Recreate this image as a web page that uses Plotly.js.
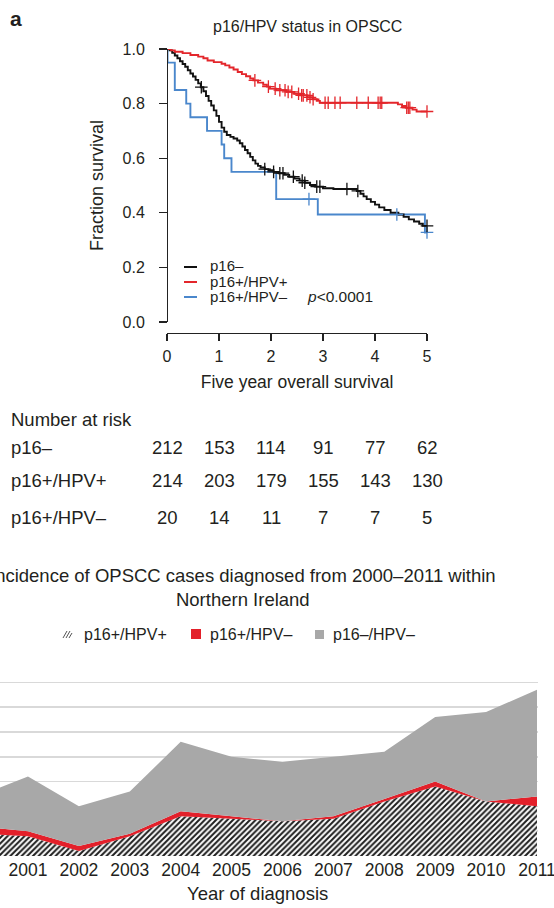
<!DOCTYPE html>
<html><head><meta charset="utf-8">
<script src="https://cdn.plot.ly/plotly-3.0.1.min.js"></script>
<style>html,body{margin:0;padding:0;background:#fff}#chart{width:554px;height:908px}</style>
</head><body><div id="chart"></div>
<script>
// ---------------- Kaplan–Meier panel data ----------------
const kmTicks = [0, 1, 2, 3, 4, 5];
const kmTickText = ['0', '1', '2', '3', '4', '5'];
const survTicks = [0, 0.2, 0.4, 0.6, 0.8, 1.0];
const survTickText = ['0.0', '0.2', '0.4', '0.6', '0.8', '1.0'];

// p16– (black)
const p16NegTime = [0, 0.05, 0.1, 0.15, 0.2, 0.25, 0.3, 0.35, 0.4, 0.45, 0.5, 0.55, 0.6, 0.65, 0.7, 0.75, 0.8, 0.85, 0.9, 0.95, 1.0, 1.05, 1.1, 1.15, 1.22, 1.28, 1.35, 1.4, 1.45, 1.5, 1.55, 1.6, 1.65, 1.7, 1.75, 1.8, 1.88, 1.95, 2.05, 2.15, 2.25, 2.35, 2.45, 2.55, 2.65, 2.75, 2.85, 3.0, 3.2, 3.65, 3.72, 3.78, 3.84, 3.92, 4.0, 4.08, 4.18, 4.3, 4.45, 4.55, 4.65, 4.75, 4.85, 4.92, 5.0];
const p16NegSurv = [1.0, 0.995, 0.986, 0.976, 0.966, 0.955, 0.945, 0.935, 0.922, 0.91, 0.899, 0.887, 0.874, 0.86, 0.845, 0.828, 0.81, 0.793, 0.775, 0.755, 0.733, 0.712, 0.697, 0.685, 0.678, 0.672, 0.665, 0.655, 0.643, 0.63, 0.618, 0.605, 0.592, 0.58, 0.572, 0.566, 0.56, 0.556, 0.55, 0.545, 0.539, 0.532, 0.525, 0.518, 0.51, 0.502, 0.496, 0.49, 0.487, 0.48, 0.47, 0.46, 0.45, 0.44, 0.43, 0.42, 0.41, 0.4, 0.394, 0.385, 0.376, 0.368, 0.36, 0.352, 0.352];
const p16NegCensor = [0.66, 1.88, 2.05, 2.17, 2.23, 2.43, 2.6, 2.65, 2.88, 2.94, 3.46, 3.67, 5.0];

// p16+/HPV+ (red)
const hpvPosTime = [0, 0.08, 0.15, 0.3, 0.45, 0.6, 0.7, 0.78, 0.9, 1.05, 1.12, 1.2, 1.28, 1.36, 1.44, 1.52, 1.6, 1.66, 1.75, 1.85, 1.92, 1.98, 2.1, 2.3, 2.45, 2.56, 2.7, 2.8, 2.88, 2.94, 4.44, 4.52, 4.6, 4.72, 4.8, 5.0];
const hpvPosSurv = [1.0, 0.995, 0.99, 0.985, 0.978, 0.972, 0.966, 0.958, 0.952, 0.946, 0.94, 0.932, 0.925, 0.916, 0.908, 0.9, 0.892, 0.885, 0.877, 0.869, 0.862, 0.855, 0.849, 0.843, 0.836, 0.83, 0.823, 0.816, 0.81, 0.803, 0.797, 0.791, 0.785, 0.778, 0.771, 0.771];
const hpvPosCensor = [1.69, 1.95, 2.08, 2.17, 2.27, 2.33, 2.4, 2.53, 2.59, 2.62, 2.69, 2.75, 2.81, 3.04, 3.1, 3.23, 3.33, 3.65, 3.87, 4.06, 4.1, 4.13, 4.61, 4.64, 4.67, 5.0];

// p16+/HPV– (blue)
const hpvNegTime = [0, 0.01, 0.15, 0.37, 0.45, 0.77, 1.05, 1.1, 1.24, 2.1, 2.9, 4.96, 5.0];
const hpvNegSurv = [1.0, 0.95, 0.85, 0.8, 0.75, 0.7, 0.65, 0.6, 0.55, 0.45, 0.394, 0.328, 0.328];
const hpvNegCensor = [2.73, 4.42, 5.0];

// Number at risk
const riskTitle = 'Number at risk';
const riskGroups = ['p16–', 'p16+/HPV+', 'p16+/HPV–'];
const riskP16Neg = [212, 153, 114, 91, 77, 62];
const riskHpvPos = [214, 203, 179, 155, 143, 130];
const riskHpvNeg = [20, 14, 11, 7, 7, 5];

// ---------------- Incidence panel data ----------------
const years = [2000, 2001, 2002, 2003, 2004, 2005, 2006, 2007, 2008, 2009, 2010, 2011];
const casesHpvPos = [9, 8, 2, 8, 16, 15, 14, 15, 22, 28, 22, 20];
const casesHpvNeg = [3, 2, 2, 1, 2, 1, 0, 1, 1, 2, 0, 4];
const casesP16Neg = [12, 22, 16, 17, 28, 24, 24, 24, 19, 26, 36, 43];
const incidenceNames = ['p16+/HPV+', 'p16+/HPV–', 'p16–/HPV–'];

// ---------------- helpers ----------------
const W = 554, H = 908;
const X = p => p / W;
const Y = p => 1 - p / H;
const FONT = 'Liberation Sans, Arial, Helvetica, sans-serif';
const TXT = '#231f20';
const BLACK = '#111111', RED = '#e3262b', BLUE = '#4a87cc';
const survAt = (times, surv, t) => { let s = surv[0]; for (let i = 0; i < times.length; i++) if (times[i] <= t) s = surv[i]; return s; };

function kmLine(times, surv, color, name) {
  return { x: times, y: surv, type: 'scatter', mode: 'lines', line: { shape: 'hv', color: color, width: 1.9 },
           name: name, showlegend: false, xaxis: 'x', yaxis: 'y', hoverinfo: 'skip' };
}
function kmCensor(times, surv, cens, color) {
  return { x: cens, y: cens.map(t => survAt(times, surv, t)), type: 'scatter', mode: 'markers', cliponaxis: false,
           marker: { symbol: 'cross-thin', size: 9, line: { color: color, width: 1.3 } },
           showlegend: false, xaxis: 'x', yaxis: 'y', hoverinfo: 'skip' };
}

const traces = [
  kmLine(hpvNegTime, hpvNegSurv, BLUE, riskGroups[2]),
  kmLine(p16NegTime, p16NegSurv, BLACK, riskGroups[0]),
  kmLine(hpvPosTime, hpvPosSurv, RED, riskGroups[1]),
  kmCensor(hpvNegTime, hpvNegSurv, hpvNegCensor, BLUE),
  kmCensor(p16NegTime, p16NegSurv, p16NegCensor, BLACK),
  kmCensor(hpvPosTime, hpvPosSurv, hpvPosCensor, RED),
  { x: years, y: casesHpvPos, name: incidenceNames[0], type: 'scatter', mode: 'none', stackgroup: 'inc',
    fillcolor: '#ffffff', fillpattern: { shape: '/', bgcolor: '#ffffff', fgcolor: '#1e1e1e', size: 4, solidity: 0.5 },
    xaxis: 'x2', yaxis: 'y2', showlegend: false, hoverinfo: 'skip' },
  { x: years, y: casesHpvNeg, name: incidenceNames[1], type: 'scatter', mode: 'none', stackgroup: 'inc',
    fillcolor: '#e3202a', xaxis: 'x2', yaxis: 'y2', showlegend: false, hoverinfo: 'skip' },
  { x: years, y: casesP16Neg, name: incidenceNames[2], type: 'scatter', mode: 'none', stackgroup: 'inc',
    fillcolor: '#a8a8a8', xaxis: 'x2', yaxis: 'y2', showlegend: false, hoverinfo: 'skip' }
];

const annotations = [];
const shapes = [];
const ann = (text, x, y, size, opts) => annotations.push(Object.assign({
  text: text, x: x, y: y, xref: 'paper', yref: 'paper', showarrow: false,
  xanchor: 'left', yanchor: 'middle', font: { family: FONT, size: size, color: TXT } }, opts || {}));

// panel letter + KM title
ann('<b>a</b>', X(8), Y(18), 21);
ann('p16/HPV status in OPSCC', X(307), Y(26), 16, { xanchor: 'center' });

// KM legend
const kmLegendColors = [BLACK, RED, BLUE];
const kmLegendY = [267, 282, 297];
riskGroups.forEach((g, i) => {
  shapes.push({ type: 'line', xref: 'paper', yref: 'paper', x0: X(184), x1: X(197), y0: Y(kmLegendY[i]), y1: Y(kmLegendY[i]),
                line: { color: kmLegendColors[i], width: 2 } });
  ann(g, X(208), Y(kmLegendY[i] - 1), 15);
});
ann('<i>p</i><0.0001', X(305), Y(296), 15.5);

// Number at risk table
ann(riskTitle, X(9), Y(419), 18.5);
const riskRows = [riskP16Neg, riskHpvPos, riskHpvNeg];
const riskY = [447, 481, 517];
riskRows.forEach((row, r) => {
  ann(riskGroups[r], X(9), Y(riskY[r]), 18.5);
  row.forEach((v, i) => annotations.push({ text: String(v), x: kmTicks[i], xref: 'x', y: Y(riskY[r]), yref: 'paper',
    showarrow: false, xanchor: 'center', yanchor: 'middle', font: { family: FONT, size: 18.5, color: TXT } }));
});

// Incidence title + legend
ann('Incidence of OPSCC cases diagnosed from 2000–2011 within<br>Northern Ireland', X(243), Y(587), 18.5,
    { xanchor: 'center', align: 'center' });
// hatched swatch
shapes.push({ type: 'path', xref: 'paper', yref: 'paper',
  path: `M ${X(63)} ${Y(638)} L ${X(67)} ${Y(631)} M ${X(66)} ${Y(638)} L ${X(70)} ${Y(631)} M ${X(69)} ${Y(638)} L ${X(72)} ${Y(633)}`,
  line: { color: '#555', width: 1 } });
ann(incidenceNames[0], X(82), Y(634), 16);
shapes.push({ type: 'rect', xref: 'paper', yref: 'paper', x0: X(191), x1: X(201), y0: Y(639), y1: Y(629), fillcolor: '#e3202a', line: { width: 0 } });
ann(incidenceNames[1], X(208), Y(634), 16);
shapes.push({ type: 'rect', xref: 'paper', yref: 'paper', x0: X(315), x1: X(324), y0: Y(639), y1: Y(630), fillcolor: '#a8a8a8', line: { width: 0 } });
ann(incidenceNames[2], X(331), Y(634), 16);

// x axis title of incidence panel
ann('Year of diagnosis', X(257), Y(893), 18.5, { xanchor: 'center' });

const layout = {
  width: W, height: H, margin: { l: 0, r: 0, t: 0, b: 0 }, paper_bgcolor: '#ffffff', plot_bgcolor: 'rgba(0,0,0,0)',
  showlegend: false, font: { family: FONT, color: TXT },
  xaxis: { domain: [X(167), X(427)], range: [0, 5], anchor: 'free', position: Y(333),
    tickvals: kmTicks, ticktext: kmTickText, ticks: 'outside', ticklen: 7, tickwidth: 1.2, tickcolor: '#222',
    showline: true, linecolor: '#222', linewidth: 1.2, showgrid: false, zeroline: false,
    tickfont: { family: FONT, size: 16, color: TXT }, ticklabelstandoff: 2, automargin: false,
    title: { text: 'Five year overall survival', font: { family: FONT, size: 17.5, color: TXT }, standoff: 11 } },
  yaxis: { domain: [Y(322), Y(49)], range: [0, 1], anchor: 'free', position: X(167),
    tickvals: survTicks, ticktext: survTickText, ticks: 'outside', ticklen: 8, tickwidth: 1.2, tickcolor: '#222',
    showline: true, linecolor: '#222', linewidth: 1.2, showgrid: false, zeroline: false,
    tickfont: { family: FONT, size: 16, color: TXT }, ticklabelstandoff: 11, automargin: false,
    title: { text: 'Fraction survival', font: { family: FONT, size: 18, color: TXT }, standoff: 13 } },
  xaxis2: { domain: [0, X(537.5)], range: [2000.45, 2011.01], anchor: 'y2', tickvals: years, ticks: '',
    showline: false, showgrid: false, zeroline: false, automargin: false, ticklabeloverflow: 'allow',
    tickfont: { family: FONT, size: 17.5, color: TXT }, ticklabelstandoff: 1 },
  yaxis2: { domain: [Y(856), Y(657)], range: [0, 80.2], anchor: 'x2', dtick: 10, ticks: '', showticklabels: false,
    showline: false, showgrid: true, gridcolor: '#d9d9d9', gridwidth: 1.6, zeroline: false, automargin: false },
  annotations: annotations, shapes: shapes
};

Plotly.newPlot('chart', traces, layout, { displayModeBar: false, staticPlot: true });
</script></body></html>
